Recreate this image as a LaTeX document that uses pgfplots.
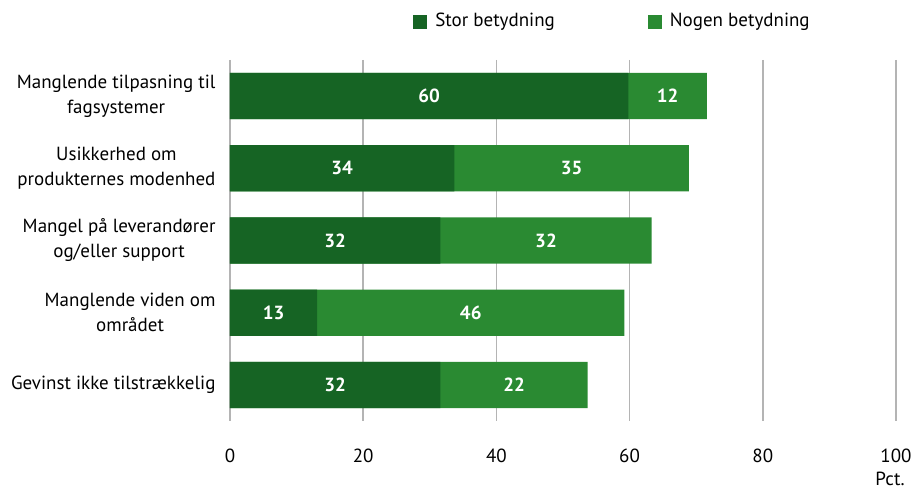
\documentclass[border=0pt]{standalone}
\usepackage{pgfplots}
\pgfplotsset{compat=1.18}
\usepackage{pgfplotstable}
\usepackage{fontspec}
\setmainfont{PT Sans}
\definecolor{darkg}{HTML}{166424}
\definecolor{lightg}{HTML}{2A8A32}
\definecolor{gridg}{HTML}{B4B4B4}
\pgfplotstableread{
y a b la lb
0 59.8 11.8 60 12
1 33.7 35.2 34 35
2 31.6 31.7 32 32
3 13.1 46.1 13 46
4 31.6 22.1 32 22
}\data
\begin{document}
\fontsize{19pt}{25pt}\selectfont
\begin{tikzpicture}
\begin{axis}[
  name=ax,
  scale only axis,
  width=666pt, height=361pt,
  xmin=0, xmax=100, ymin=-0.5, ymax=4.5,
  y dir=reverse,
  axis line style={draw=none},
  major tick length=0pt,
  xtick={0,20,40,60,80,100},
  ytick={0,1,2,3,4},
  yticklabels={{Manglende tilpasning til\\fagsystemer},{Usikkerhed om\\produkternes modenhed},{Mangel på leverandører\\og/eller support},{Manglende viden om\\området},{Gevinst ikke tilstrækkelig}},
  yticklabel style={align=center, xshift=-8pt},
  xticklabel style={yshift=-21pt},
  /pgf/number format/assume math mode=true,
  xmajorgrids,
  major grid style={draw=gridg, line width=1.6pt},
  xlabel={Pct.},
  xlabel style={at={(axis description cs:1,0)}, anchor=north east, xshift=9pt, yshift=-51pt, inner sep=0pt},
  legend style={at={(axis description cs:0.275,1)}, anchor=south west, xshift=-3pt, yshift=26pt, draw=none, fill=none,
    legend columns=2, /tikz/every even column/.append style={column sep=91pt}},
  legend image code/.code={\fill[#1] (0pt,-7pt) rectangle (14pt,7pt); \path[draw=none, fill=none] (0pt,0pt) -- (20pt,0pt);},
  bar width=0.64,
]
\addlegendimage{fill=darkg, draw=none}
\addlegendentry{Stor betydning}
\addlegendimage{fill=lightg, draw=none}
\addlegendentry{Nogen betydning}
\addplot[xbar, bar shift=0pt, fill=lightg, draw=none, forget plot] table[y=y, x expr=\thisrow{a}+\thisrow{b}] {\data};
\addplot[xbar, bar shift=0pt, fill=darkg, draw=none, forget plot] table[y=y, x=a] {\data};
\addplot[only marks, mark=none, forget plot, point meta=explicit symbolic,
  nodes near coords, nodes near coords align=center,
  every node near coord/.append style={text=white, font=\bfseries, anchor=center}]
  table[y=y, x expr=\thisrow{a}/2, meta=la] {\data};
\addplot[only marks, mark=none, forget plot, point meta=explicit symbolic,
  nodes near coords, nodes near coords align=center,
  every node near coord/.append style={text=white, font=\bfseries, anchor=center}]
  table[y=y, x expr=\thisrow{a}+\thisrow{b}/2, meta=lb] {\data};
\end{axis}
\pgfresetboundingbox
\path[use as bounding box] ([xshift=-230pt,yshift=-71pt]ax.south west) rectangle ([xshift=17pt,yshift=60pt]ax.north east);
\end{tikzpicture}
\end{document}
